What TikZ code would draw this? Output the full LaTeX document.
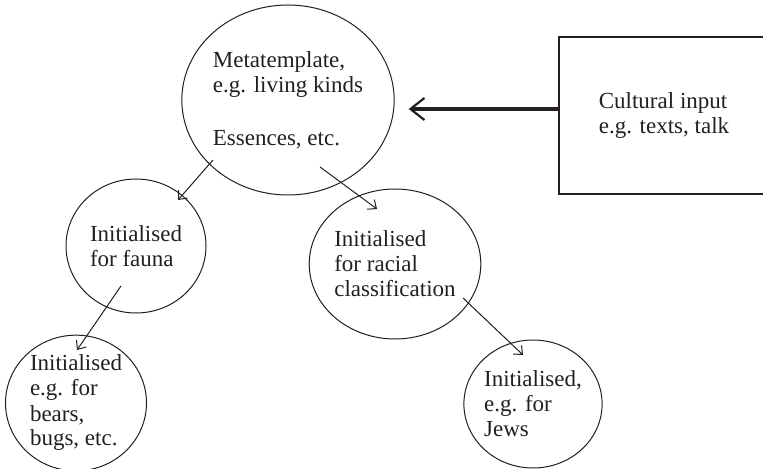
\documentclass[tikz,border=0pt]{standalone}
\usepackage{fontspec}
\setmainfont{Liberation Serif}
\usetikzlibrary{arrows.meta,positioning,shapes.geometric}
\definecolor{inkdark}{HTML}{231F20}
\tikzset{
  kindnode/.style={
    ellipse,
    draw=inkdark,
    line width=0.5pt,
    inner sep=0pt,
    align=left,
    text=inkdark,
    font=\fontsize{11.5}{12.5}\selectfont
  },
  inputbox/.style={
    rectangle,
    draw=inkdark,
    line width=0.6pt,
    minimum width=105pt,
    minimum height=78.5pt,
    align=left,
    text=inkdark,
    font=\fontsize{11.5}{12.5}\selectfont
  },
  thinarrow/.style={
    -{Straight Barb[length=3.5pt,width=6pt]},
    line width=0.5pt,
    draw=inkdark
  },
  inputarrow/.style={
    -{Straight Barb[length=7pt,width=11pt,line width=1.1pt]},
    line width=1.8pt,
    draw=inkdark,
    shorten >=7pt
  }
}

\begin{document}
\begin{tikzpicture}[x=0.5pt,y=-0.5pt]
\useasboundingbox (0,0) rectangle (763,469);
\node[kindnode, minimum width=105pt, minimum height=95pt] (meta) at (288,100)
  {Metatemplate,\\e.g. living kinds\\[14pt]Essences, etc.};
\node[kindnode, minimum width=70pt, minimum height=67pt] (fauna) at (136,246)
  {Initialised\\for fauna};
\node[kindnode, minimum width=82.5pt, minimum height=75pt] (racial) at (395,264)
  {Initialised\\for racial\\classification};
\node[kindnode, minimum width=70.5pt, minimum height=66pt] (bears) at (76,403)
  {Initialised\\e.g. for\\bears,\\bugs, etc.};
\node[kindnode, minimum width=68.5pt, minimum height=64pt] (jews) at (533,404)
  {Initialised,\\e.g. for\\Jews};
\node[inputbox] (input) at (664,115.5) {Cultural input\\e.g. texts, talk};
% cultural input feeds the metatemplate
\coordinate (inputtail) at ([yshift=3.25pt]input.west);
\draw[inputarrow] (inputtail) -- (inputtail -| meta.east);
% initialisation arrows
\foreach \from/\fromoff/\to/\tooff in {meta/{-75,60}/fauna/{42,-46},
    meta/{32,67}/racial/{-18,-55},
    fauna/{-15,40}/bears/{1,-53},
    racial/{68,34}/jews/{-10,-49}} {
  \draw[thinarrow] ([shift={(\fromoff)}]\from.center) -- ([shift={(\tooff)}]\to.center);
}
\end{tikzpicture}
\end{document}
